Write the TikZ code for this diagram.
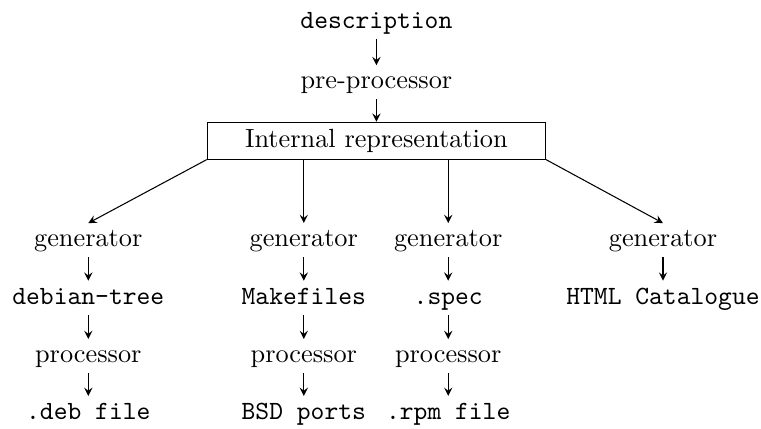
\documentclass[tikz,border=0pt]{standalone}
\usepackage{tikz}

\tikzset{
    every node/.style={text height=7pt, text depth=2pt, inner ysep=1.8pt},
    box/.style={draw, minimum width=4.52cm, inner ysep=2.5pt},
    >=stealth
}

\begin{document}
\begin{tikzpicture}
    \useasboundingbox (0,0) rectangle (10.17,-5.72);
    % top of the chain
    \node (desc) at (5.03,-0.29) {\texttt{description}};
    \node (pre) at (5.03,-1.10) {pre-processor};
    \node[box] (rep) at (5.03,-1.88) {Internal representation};
    \draw[->] (desc) -- (pre);
    \draw[->] (pre) -- (rep);
    % generators
    \node (gena) at (1.18,-3.21) {generator};
    \node (genb) at (4.06,-3.21) {generator};
    \node (genc) at (5.99,-3.21) {generator};
    \node (gend) at (8.86,-3.21) {generator};
    \draw[->] (rep.south west) -- (gena.north);
    \draw[->] (rep.south -| genb) -- (genb);
    \draw[->] (rep.south -| genc) -- (genc);
    \draw[->] (rep.south east) -- (gend.north);
    % outputs
    \node (deb) at (1.18,-3.98) {\texttt{debian-tree}};
    \node (make) at (4.06,-3.98) {\texttt{Makefiles}};
    \node (spec) at (5.99,-3.98) {\texttt{.spec}};
    \node (html) at (8.86,-3.98) {\texttt{HTML Catalogue}};
    \draw[->] (gena) -- (deb);
    \draw[->] (genb) -- (make);
    \draw[->] (genc) -- (spec);
    \draw[->] (gend) -- (html);
    % processors
    \node (proca) at (1.18,-4.76) {processor};
    \node (procb) at (4.06,-4.76) {processor};
    \node (procc) at (5.99,-4.76) {processor};
    \draw[->] (deb) -- (proca);
    \draw[->] (make) -- (procb);
    \draw[->] (spec) -- (procc);
    % packages
    \node (debf) at (1.18,-5.52) {\texttt{.deb file}};
    \node (bsd) at (4.06,-5.52) {\texttt{BSD ports}};
    \node (rpm) at (5.99,-5.52) {\texttt{.rpm file}};
    \draw[->] (proca) -- (debf);
    \draw[->] (procb) -- (bsd);
    \draw[->] (procc) -- (rpm);
\end{tikzpicture}
\end{document}
